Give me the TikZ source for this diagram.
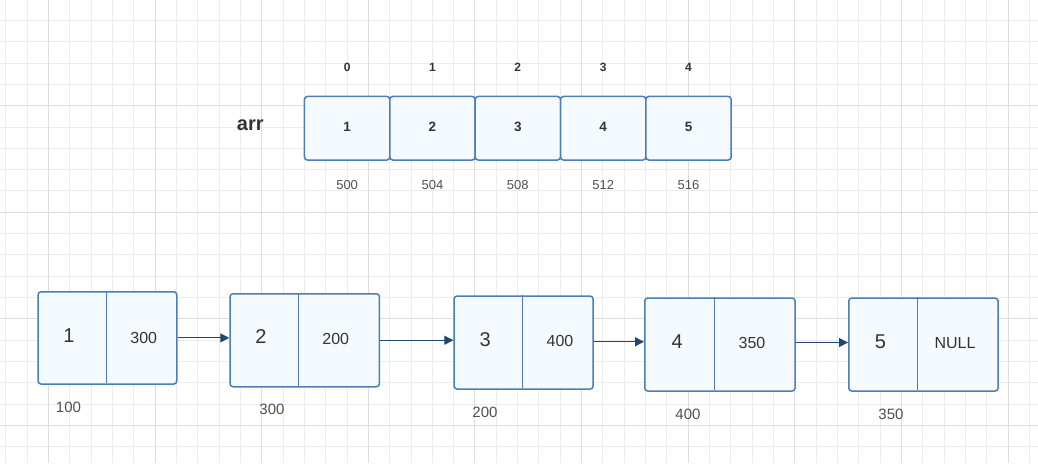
\documentclass[tikz,border=0pt]{standalone}
\usepackage{fontspec}
\setmainfont{Liberation Sans}
\usetikzlibrary{arrows.meta}
\definecolor{gridminor}{RGB}{236,236,236}
\definecolor{gridmajor}{RGB}{221,221,221}
\definecolor{boxline}{RGB}{74,126,180}
\definecolor{boxfill}{RGB}{245,250,255}
\definecolor{linkcol}{RGB}{31,72,112}
\definecolor{txt}{RGB}{51,51,51}
\definecolor{addrtxt}{RGB}{80,80,80}
\begin{document}
\begin{tikzpicture}[x=1pt,y=-1pt,
  cell/.style={draw=boxline,fill=boxfill,line width=1.5pt,rounded corners=3pt,
    inner sep=0pt,anchor=north west},
  divider/.style={draw=boxline,line width=1.5pt},
  link/.style={draw=linkcol,line width=1.1pt,-{Triangle[length=9pt,width=9pt]}},
  idx/.style={text=txt,font=\fontsize{12}{14}\selectfont\bfseries,inner sep=0pt},
  val/.style={text=txt,font=\fontsize{13.5}{16}\selectfont\bfseries,inner sep=0pt},
  addr/.style={text=addrtxt,font=\fontsize{13}{15}\selectfont,inner sep=0pt},
  datum/.style={text=txt,font=\fontsize{20}{24}\selectfont,inner sep=0pt},
  ptr/.style={text=txt,font=\fontsize{16}{19}\selectfont,inner sep=0pt},
  loc/.style={text=addrtxt,font=\fontsize{15}{18}\selectfont,inner sep=0pt}]
\useasboundingbox (0,0) rectangle (1038,463);
\fill[white] (0,0) rectangle (1038,463);

% background grid
\foreach \i in {0,...,48}
  \draw[gridminor,line width=1pt] (5.86+\i*21.324,0) -- (5.86+\i*21.324,463);
\foreach \j in {1,...,21}
  \draw[gridminor,line width=1pt] (0,-0.9+\j*21.32) -- (1038,-0.9+\j*21.32);
\foreach \i in {0,...,9}
  \draw[gridmajor,line width=1pt] (48.5+\i*106.62,0) -- (48.5+\i*106.62,463);
\foreach \j in {0,...,3}
  \draw[gridmajor,line width=1pt] (0,105.7+\j*106.6) -- (1038,105.7+\j*106.6);

% array cells
\node[text=txt,font=\fontsize{20}{24}\selectfont\bfseries,inner sep=0pt] (arr) at (250.3,125) {arr};
\foreach \k/\v/\a in {0/1/500,1/2/504,2/3/508,3/4/512,4/5/516}{
  \node[cell,minimum width=85.35pt,minimum height=63.6pt] (a\k) at (303.7+\k*85.35,95.7) {};
  \node[idx] (i\k) at ([yshift=60.8pt]a\k.center) {\k};
  \node[val] (v\k) at ([yshift=1.8pt]a\k.center) {\v};
  \node[addr] (m\k) at ([yshift=-56.8pt]a\k.center) {\a};
}

% linked list nodes
\node[cell,minimum width=138.7pt,minimum height=92.3pt] (n1) at (37.3,291) {};
\node[cell,minimum width=149.4pt,minimum height=93pt]   (n2) at (229.3,293) {};
\node[cell,minimum width=139pt,minimum height=93pt]     (n3) at (453.3,295.3) {};
\node[cell,minimum width=150.3pt,minimum height=93pt]   (n4) at (644,297.3) {};
\node[cell,minimum width=149.3pt,minimum height=93pt]   (n5) at (848,297.3) {};

\draw[divider] (n1.north west) ++(69.4,0) -- ++(0,92.3);
\draw[divider] (n2.north west) ++(69.4,0) -- ++(0,93);
\draw[divider] (n3.north west) ++(69.4,0) -- ++(0,93);
\draw[divider] (n4.north west) ++(70.7,0) -- ++(0,93);
\draw[divider] (n5.north west) ++(69.7,0) -- ++(0,93);

\node[datum] (d1) at (69,336) {1};
\node[ptr]   (p1) at (143.7,337.8) {300};
\node[datum] (d2) at (261,337) {2};
\node[ptr]   (p2) at (335.8,338.7) {200};
\node[datum] (d3) at (485.2,339.3) {3};
\node[ptr]   (p3) at (560,341) {400};
\node[datum] (d4) at (677.3,341.7) {4};
\node[ptr]   (p4) at (752,343) {350};
\node[datum] (d5) at (880.3,341.7) {5};
\node[ptr]   (p5) at (955,342.7) {NULL};

\node[loc] (l1) at (68.5,407.7) {100};
\node[loc] (l2) at (272,409.3) {300};
\node[loc] (l3) at (485,412.3) {200};
\node[loc] (l4) at (688,414.3) {400};
\node[loc] (l5) at (891,414.3) {350};

% next pointers
\draw[link] (n1.east) -- (n1.east -| n2.west);
\draw[link] (n2.east) -- (n2.east -| n3.west);
\draw[link] ([yshift=0.8pt]n3.east) -- ([yshift=0.8pt]n3.east -| n4.west);
\draw[link] ([yshift=2pt]n4.east) -- ([yshift=2pt]n4.east -| n5.west);
\end{tikzpicture}
\end{document}
